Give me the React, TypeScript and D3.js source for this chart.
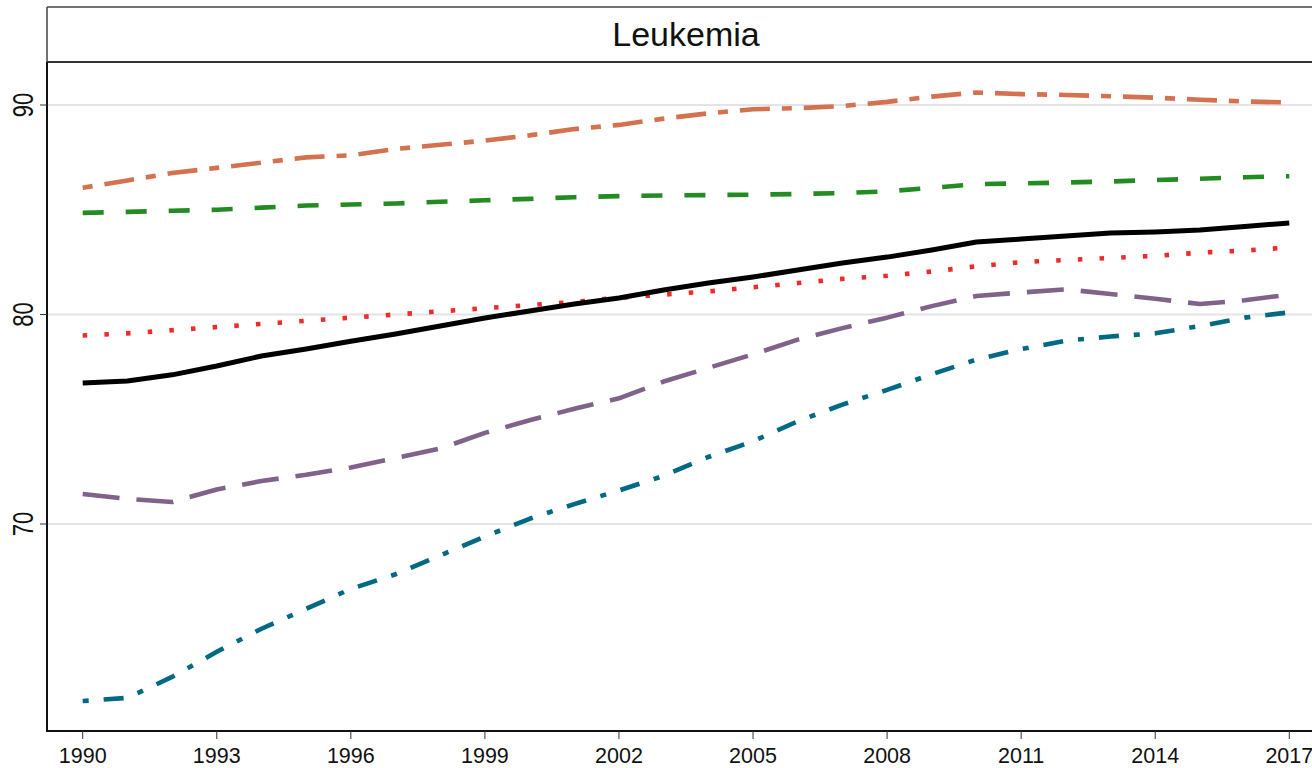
import React from "react";
import * as d3 from "d3";

const years = d3.range(1990, 2018);
const xTicks = [1990, 1993, 1996, 1999, 2002, 2005, 2008, 2011, 2014, 2017];
const yTicks = [70, 80, 90];
const title = "Leukemia";

const orangeVals = [86.05, 86.4, 86.75, 87.0, 87.25, 87.5, 87.6, 87.9, 88.1, 88.3, 88.55, 88.85, 89.05, 89.35, 89.6, 89.8, 89.85, 89.95, 90.15, 90.4, 90.6, 90.52, 90.48, 90.42, 90.35, 90.25, 90.17, 90.12];
const greenVals = [84.85, 84.9, 84.95, 85.0, 85.1, 85.2, 85.25, 85.3, 85.38, 85.45, 85.52, 85.6, 85.65, 85.68, 85.7, 85.72, 85.75, 85.8, 85.88, 86.05, 86.22, 86.26, 86.3, 86.35, 86.42, 86.48, 86.55, 86.6];
const redVals = [79.0, 79.1, 79.25, 79.4, 79.55, 79.7, 79.85, 80.0, 80.15, 80.3, 80.45, 80.6, 80.8, 80.95, 81.1, 81.3, 81.5, 81.7, 81.85, 82.05, 82.3, 82.5, 82.6, 82.7, 82.8, 82.95, 83.05, 83.2];
const purpleVals = [71.43, 71.2, 71.05, 71.65, 72.05, 72.35, 72.7, 73.15, 73.6, 74.35, 74.95, 75.5, 76.0, 76.8, 77.45, 78.1, 78.8, 79.35, 79.85, 80.4, 80.88, 81.05, 81.2, 80.98, 80.75, 80.5, 80.68, 80.95];
const tealVals = [61.55, 61.7, 62.7, 63.9, 65.0, 65.95, 66.9, 67.6, 68.5, 69.4, 70.25, 70.95, 71.6, 72.3, 73.2, 73.95, 74.9, 75.7, 76.4, 77.15, 77.85, 78.35, 78.75, 78.95, 79.1, 79.45, 79.85, 80.1];
const blackVals = [76.73, 76.83, 77.12, 77.54, 78.02, 78.35, 78.72, 79.07, 79.45, 79.83, 80.17, 80.5, 80.79, 81.17, 81.5, 81.79, 82.12, 82.46, 82.74, 83.08, 83.46, 83.6, 83.75, 83.89, 83.94, 84.03, 84.2, 84.37];

const series = [
  { name: "orange", values: orangeVals, color: "#d4714f", dash: "10,12,30,12", width: 4.6 },
  { name: "green", values: greenVals, color: "#228b22", dash: "21,22", width: 4.6 },
  { name: "red", values: redVals, color: "#ee2a2a", dash: "4.5,17.2", width: 4.6 },
  { name: "purple", values: purpleVals, color: "#80628b", dash: "37,17", width: 4.6 },
  { name: "teal", values: tealVals, color: "#016983", dash: "6,15,20,15", width: 4.6 },
  { name: "black", values: blackVals, color: "#000000", dash: null, width: 5 },
];

export default function App() {
  const W = 1312;
  const H = 768;
  const left = 47;
  const plotTop = 62;
  const plotBottom = 731;
  const x = d3.scaleLinear().domain([1990, 2017]).range([82.7, 1289.3]);
  const y = d3.scaleLinear().domain([70, 90]).range([524, 105]);
  const line = d3
    .line<number>()
    .x((_, i) => x(years[i]))
    .y((d) => y(d));

  return (
    <div style={{ position: "absolute", left: 0, top: 0, width: W, height: H, background: "#fff" }}>
      <svg width={W} height={H} style={{ display: "block" }} fontFamily="'Liberation Sans', Arial, sans-serif">
        <rect x={0} y={0} width={W} height={H} fill="#fff" />
        {/* title strip */}
        <line x1={left} x2={W} y1={7} y2={7} stroke="#444" strokeWidth={1.5} />
        <line x1={left} x2={left} y1={7} y2={plotTop} stroke="#444" strokeWidth={1.5} />
        <text x={686} y={46} fontSize={34} textAnchor="middle" fill="#111">
          {title}
        </text>
        {/* gridlines */}
        {yTicks.map((t) => (
          <line key={"g" + t} x1={left} x2={W} y1={y(t)} y2={y(t)} stroke="#e4e4e4" strokeWidth={2} />
        ))}
        {/* series */}
        {series.map((s) => (
          <path
            key={s.name}
            d={line(s.values) || ""}
            fill="none"
            stroke={s.color}
            strokeWidth={s.width}
            strokeDasharray={s.dash || undefined}
            strokeLinejoin="round"
          />
        ))}
        {/* plot top border */}
        <line x1={left} x2={W} y1={plotTop} y2={plotTop} stroke="#333" strokeWidth={2} />
        {/* axes */}
        <line x1={left} x2={left} y1={plotTop} y2={plotBottom} stroke="#111" strokeWidth={2} />
        <line x1={left - 1} x2={W} y1={plotBottom} y2={plotBottom} stroke="#111" strokeWidth={2} />
        {yTicks.map((t) => (
          <g key={"yt" + t}>
            <line x1={40} x2={left} y1={y(t)} y2={y(t)} stroke="#333" strokeWidth={1} />
            <text
              transform={`translate(33, ${y(t)}) rotate(-90) scale(1, 1.3)`}
              fontSize={22}
              textAnchor="middle"
              fill="#111"
            >
              {t}
            </text>
          </g>
        ))}
        {xTicks.map((t) => (
          <g key={"xt" + t}>
            <line x1={x(t)} x2={x(t)} y1={plotBottom} y2={plotBottom + 8} stroke="#333" strokeWidth={1} />
            <text x={x(t)} y={763} fontSize={21.5} textAnchor="middle" fill="#111">
              {t}
            </text>
          </g>
        ))}
      </svg>
    </div>
  );
}
